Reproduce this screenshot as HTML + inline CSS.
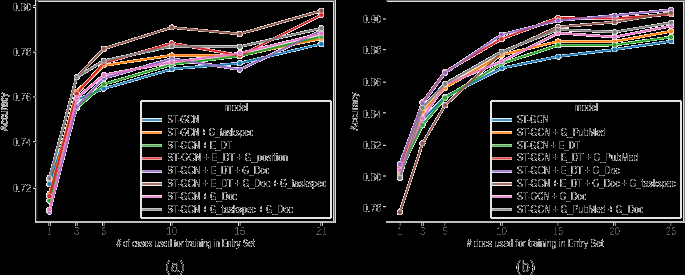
<!DOCTYPE html>
<html><head><meta charset="utf-8"><title>chart</title>
<style>html,body{margin:0;padding:0;background:#000;width:685px;height:275px;overflow:hidden}
svg{display:block} text{font-family:"Liberation Sans",sans-serif;fill:#262626}</style></head>
<body>
<svg width="685" height="275" viewBox="0 0 685 275" xmlns="http://www.w3.org/2000/svg">
<defs>
<filter id="w2b" x="0" y="0" width="685" height="275" filterUnits="userSpaceOnUse" color-interpolation-filters="sRGB">
<feGaussianBlur in="SourceGraphic" stdDeviation="0.4" result="src"/>
<feColorMatrix in="src" type="matrix" values="0 0 0 0 0  0 0 0 0 0  0 0 0 0 0  -0.3333333 -0.3333333 -0.3333334 0 1" result="m"/>
<feComponentTransfer in="m" result="mask"><feFuncA type="linear" slope="1000" intercept="-0.5"/></feComponentTransfer>
<feComposite in="src" in2="mask" operator="in" result="fg"/>
<feFlood flood-color="#000" result="bg"/>
<feMerge><feMergeNode in="bg"/><feMergeNode in="fg"/></feMerge>
</filter>
<filter id="t_main" x="0" y="0" width="685" height="275" filterUnits="userSpaceOnUse" color-interpolation-filters="sRGB">
<feFlood flood-color="#fff" result="w"/>
<feMerge result="flat0"><feMergeNode in="w"/><feMergeNode in="SourceGraphic"/></feMerge>
<feGaussianBlur in="flat0" stdDeviation="0.5" result="flat"/>
<feColorMatrix in="flat" type="matrix" values="0 0 0 0 0  0 0 0 0 0  0 0 0 0 0  -0.3333333 -0.3333333 -0.3333334 0 1" result="inv"/>
<feComponentTransfer in="inv" result="mask"><feFuncA type="linear" slope="1000" intercept="-140.000"/></feComponentTransfer>
<feComposite in="flat" in2="mask" operator="in"/>
</filter>
<filter id="t_ytk" x="0" y="0" width="685" height="275" filterUnits="userSpaceOnUse" color-interpolation-filters="sRGB">
<feFlood flood-color="#fff" result="w"/>
<feMerge result="flat0"><feMergeNode in="w"/><feMergeNode in="SourceGraphic"/></feMerge>
<feGaussianBlur in="flat0" stdDeviation="0.6" result="flat"/>
<feColorMatrix in="flat" type="matrix" values="0 0 0 0 0  0 0 0 0 0  0 0 0 0 0  -0.3333333 -0.3333333 -0.3333334 0 1" result="inv"/>
<feComponentTransfer in="inv" result="mask"><feFuncA type="linear" slope="1000" intercept="-200.000"/></feComponentTransfer>
<feComposite in="flat" in2="mask" operator="in"/>
</filter>
<filter id="t_xtk" x="0" y="0" width="685" height="275" filterUnits="userSpaceOnUse" color-interpolation-filters="sRGB">
<feFlood flood-color="#fff" result="w"/>
<feMerge result="flat0"><feMergeNode in="w"/><feMergeNode in="SourceGraphic"/></feMerge>
<feGaussianBlur in="flat0" stdDeviation="0.6" result="flat"/>
<feColorMatrix in="flat" type="matrix" values="0 0 0 0 0  0 0 0 0 0  0 0 0 0 0  -0.3333333 -0.3333333 -0.3333334 0 1" result="inv"/>
<feComponentTransfer in="inv" result="mask"><feFuncA type="linear" slope="1000" intercept="-500.000"/></feComponentTransfer>
<feComposite in="flat" in2="mask" operator="in"/>
</filter>
</defs>
<g filter="url(#w2b)">
<rect x="-10" y="-10" width="705" height="295" fill="#fff"/>
<polyline points="49.4,184.0 76.6,99.8 103.8,88.6 171.8,69.1 239.8,63.2 321.4,43.9" fill="none" stroke="#1f77b4" stroke-width="2.0" stroke-linejoin="round" stroke-linecap="round"/>
<circle cx="49.4" cy="184.0" r="2.6" fill="#1f77b4" stroke="#fff" stroke-width="0.6"/>
<circle cx="76.6" cy="99.8" r="2.6" fill="#1f77b4" stroke="#fff" stroke-width="0.6"/>
<circle cx="103.8" cy="88.6" r="2.6" fill="#1f77b4" stroke="#fff" stroke-width="0.6"/>
<circle cx="171.8" cy="69.1" r="2.6" fill="#1f77b4" stroke="#fff" stroke-width="0.6"/>
<circle cx="239.8" cy="63.2" r="2.6" fill="#1f77b4" stroke="#fff" stroke-width="0.6"/>
<circle cx="321.4" cy="43.9" r="2.6" fill="#1f77b4" stroke="#fff" stroke-width="0.6"/>
<polyline points="49.4,194.0 76.6,91.5 103.8,65.5 171.8,55.3 239.8,55.5 321.4,38.5" fill="none" stroke="#ff7f0e" stroke-width="2.0" stroke-linejoin="round" stroke-linecap="round"/>
<circle cx="49.4" cy="194.0" r="2.6" fill="#ff7f0e" stroke="#fff" stroke-width="0.6"/>
<circle cx="76.6" cy="91.5" r="2.6" fill="#ff7f0e" stroke="#fff" stroke-width="0.6"/>
<circle cx="103.8" cy="65.5" r="2.6" fill="#ff7f0e" stroke="#fff" stroke-width="0.6"/>
<circle cx="171.8" cy="55.3" r="2.6" fill="#ff7f0e" stroke="#fff" stroke-width="0.6"/>
<circle cx="239.8" cy="55.5" r="2.6" fill="#ff7f0e" stroke="#fff" stroke-width="0.6"/>
<circle cx="321.4" cy="38.5" r="2.6" fill="#ff7f0e" stroke="#fff" stroke-width="0.6"/>
<polyline points="49.4,200.6 76.6,108.0 103.8,84.2 171.8,64.5 239.8,56.0 321.4,36.5" fill="none" stroke="#2ca02c" stroke-width="2.0" stroke-linejoin="round" stroke-linecap="round"/>
<circle cx="49.4" cy="200.6" r="2.6" fill="#2ca02c" stroke="#fff" stroke-width="0.6"/>
<circle cx="76.6" cy="108.0" r="2.6" fill="#2ca02c" stroke="#fff" stroke-width="0.6"/>
<circle cx="103.8" cy="84.2" r="2.6" fill="#2ca02c" stroke="#fff" stroke-width="0.6"/>
<circle cx="171.8" cy="64.5" r="2.6" fill="#2ca02c" stroke="#fff" stroke-width="0.6"/>
<circle cx="239.8" cy="56.0" r="2.6" fill="#2ca02c" stroke="#fff" stroke-width="0.6"/>
<circle cx="321.4" cy="36.5" r="2.6" fill="#2ca02c" stroke="#fff" stroke-width="0.6"/>
<polyline points="49.4,196.2 76.6,93.8 103.8,63.0 171.8,43.3 239.8,55.6 321.4,14.8" fill="none" stroke="#d62728" stroke-width="2.0" stroke-linejoin="round" stroke-linecap="round"/>
<circle cx="49.4" cy="196.2" r="2.6" fill="#d62728" stroke="#fff" stroke-width="0.6"/>
<circle cx="76.6" cy="93.8" r="2.6" fill="#d62728" stroke="#fff" stroke-width="0.6"/>
<circle cx="103.8" cy="63.0" r="2.6" fill="#d62728" stroke="#fff" stroke-width="0.6"/>
<circle cx="171.8" cy="43.3" r="2.6" fill="#d62728" stroke="#fff" stroke-width="0.6"/>
<circle cx="239.8" cy="55.6" r="2.6" fill="#d62728" stroke="#fff" stroke-width="0.6"/>
<circle cx="321.4" cy="14.8" r="2.6" fill="#d62728" stroke="#fff" stroke-width="0.6"/>
<polyline points="49.4,211.8 76.6,106.7 103.8,78.3 171.8,58.8 239.8,69.6 321.4,30.7" fill="none" stroke="#9467bd" stroke-width="2.0" stroke-linejoin="round" stroke-linecap="round"/>
<circle cx="49.4" cy="211.8" r="2.6" fill="#9467bd" stroke="#fff" stroke-width="0.6"/>
<circle cx="76.6" cy="106.7" r="2.6" fill="#9467bd" stroke="#fff" stroke-width="0.6"/>
<circle cx="103.8" cy="78.3" r="2.6" fill="#9467bd" stroke="#fff" stroke-width="0.6"/>
<circle cx="171.8" cy="58.8" r="2.6" fill="#9467bd" stroke="#fff" stroke-width="0.6"/>
<circle cx="239.8" cy="69.6" r="2.6" fill="#9467bd" stroke="#fff" stroke-width="0.6"/>
<circle cx="321.4" cy="30.7" r="2.6" fill="#9467bd" stroke="#fff" stroke-width="0.6"/>
<polyline points="49.4,179.0 76.6,77.5 103.8,48.7 171.8,27.4 239.8,33.9 321.4,10.7" fill="none" stroke="#8c564b" stroke-width="2.0" stroke-linejoin="round" stroke-linecap="round"/>
<circle cx="49.4" cy="179.0" r="2.6" fill="#8c564b" stroke="#fff" stroke-width="0.6"/>
<circle cx="76.6" cy="77.5" r="2.6" fill="#8c564b" stroke="#fff" stroke-width="0.6"/>
<circle cx="103.8" cy="48.7" r="2.6" fill="#8c564b" stroke="#fff" stroke-width="0.6"/>
<circle cx="171.8" cy="27.4" r="2.6" fill="#8c564b" stroke="#fff" stroke-width="0.6"/>
<circle cx="239.8" cy="33.9" r="2.6" fill="#8c564b" stroke="#fff" stroke-width="0.6"/>
<circle cx="321.4" cy="10.7" r="2.6" fill="#8c564b" stroke="#fff" stroke-width="0.6"/>
<polyline points="49.4,209.5 76.6,98.2 103.8,75.1 171.8,62.3 239.8,53.2 321.4,33.6" fill="none" stroke="#e377c2" stroke-width="2.0" stroke-linejoin="round" stroke-linecap="round"/>
<circle cx="49.4" cy="209.5" r="2.6" fill="#e377c2" stroke="#fff" stroke-width="0.6"/>
<circle cx="76.6" cy="98.2" r="2.6" fill="#e377c2" stroke="#fff" stroke-width="0.6"/>
<circle cx="103.8" cy="75.1" r="2.6" fill="#e377c2" stroke="#fff" stroke-width="0.6"/>
<circle cx="171.8" cy="62.3" r="2.6" fill="#e377c2" stroke="#fff" stroke-width="0.6"/>
<circle cx="239.8" cy="53.2" r="2.6" fill="#e377c2" stroke="#fff" stroke-width="0.6"/>
<circle cx="321.4" cy="33.6" r="2.6" fill="#e377c2" stroke="#fff" stroke-width="0.6"/>
<polyline points="49.4,178.1 76.6,77.3 103.8,60.7 171.8,46.2 239.8,46.7 321.4,28.2" fill="none" stroke="#7f7f7f" stroke-width="2.0" stroke-linejoin="round" stroke-linecap="round"/>
<circle cx="49.4" cy="178.1" r="2.6" fill="#7f7f7f" stroke="#fff" stroke-width="0.6"/>
<circle cx="76.6" cy="77.3" r="2.6" fill="#7f7f7f" stroke="#fff" stroke-width="0.6"/>
<circle cx="103.8" cy="60.7" r="2.6" fill="#7f7f7f" stroke="#fff" stroke-width="0.6"/>
<circle cx="171.8" cy="46.2" r="2.6" fill="#7f7f7f" stroke="#fff" stroke-width="0.6"/>
<circle cx="239.8" cy="46.7" r="2.6" fill="#7f7f7f" stroke="#fff" stroke-width="0.6"/>
<circle cx="321.4" cy="28.2" r="2.6" fill="#7f7f7f" stroke="#fff" stroke-width="0.6"/>
<rect x="141" y="101" width="190" height="117" rx="1.5" fill="#fff" stroke="#cccccc" stroke-width="1"/>
<line x1="142.2" y1="120.0" x2="161.8" y2="120.0" stroke="#1f77b4" stroke-width="2.3" stroke-opacity="0.82"/>
<line x1="142.2" y1="132.8" x2="161.8" y2="132.8" stroke="#ff7f0e" stroke-width="2.3" stroke-opacity="0.82"/>
<line x1="142.2" y1="145.6" x2="161.8" y2="145.6" stroke="#2ca02c" stroke-width="2.3" stroke-opacity="0.82"/>
<line x1="142.2" y1="158.4" x2="161.8" y2="158.4" stroke="#d62728" stroke-width="2.3" stroke-opacity="0.82"/>
<line x1="142.2" y1="171.2" x2="161.8" y2="171.2" stroke="#9467bd" stroke-width="2.3" stroke-opacity="0.82"/>
<line x1="142.2" y1="184.0" x2="161.8" y2="184.0" stroke="#8c564b" stroke-width="2.3" stroke-opacity="0.82"/>
<line x1="142.2" y1="196.8" x2="161.8" y2="196.8" stroke="#e377c2" stroke-width="2.3" stroke-opacity="0.82"/>
<line x1="142.2" y1="209.6" x2="161.8" y2="209.6" stroke="#7f7f7f" stroke-width="2.3" stroke-opacity="0.82"/>
<polyline points="399.9,174.5 422.5,120.0 445.1,97.0 501.6,68.2 558.1,56.6 614.6,49.4 671.1,41.2" fill="none" stroke="#1f77b4" stroke-width="2.0" stroke-linejoin="round" stroke-linecap="round"/>
<circle cx="399.9" cy="174.5" r="2.6" fill="#1f77b4" stroke="#fff" stroke-width="0.6"/>
<circle cx="422.5" cy="120.0" r="2.6" fill="#1f77b4" stroke="#fff" stroke-width="0.6"/>
<circle cx="445.1" cy="97.0" r="2.6" fill="#1f77b4" stroke="#fff" stroke-width="0.6"/>
<circle cx="501.6" cy="68.2" r="2.6" fill="#1f77b4" stroke="#fff" stroke-width="0.6"/>
<circle cx="558.1" cy="56.6" r="2.6" fill="#1f77b4" stroke="#fff" stroke-width="0.6"/>
<circle cx="614.6" cy="49.4" r="2.6" fill="#1f77b4" stroke="#fff" stroke-width="0.6"/>
<circle cx="671.1" cy="41.2" r="2.6" fill="#1f77b4" stroke="#fff" stroke-width="0.6"/>
<polyline points="399.9,172.5 422.5,111.6 445.1,87.7 501.6,54.9 558.1,41.4 614.6,41.5 671.1,31.3" fill="none" stroke="#ff7f0e" stroke-width="2.0" stroke-linejoin="round" stroke-linecap="round"/>
<circle cx="399.9" cy="172.5" r="2.6" fill="#ff7f0e" stroke="#fff" stroke-width="0.6"/>
<circle cx="422.5" cy="111.6" r="2.6" fill="#ff7f0e" stroke="#fff" stroke-width="0.6"/>
<circle cx="445.1" cy="87.7" r="2.6" fill="#ff7f0e" stroke="#fff" stroke-width="0.6"/>
<circle cx="501.6" cy="54.9" r="2.6" fill="#ff7f0e" stroke="#fff" stroke-width="0.6"/>
<circle cx="558.1" cy="41.4" r="2.6" fill="#ff7f0e" stroke="#fff" stroke-width="0.6"/>
<circle cx="614.6" cy="41.5" r="2.6" fill="#ff7f0e" stroke="#fff" stroke-width="0.6"/>
<circle cx="671.1" cy="31.3" r="2.6" fill="#ff7f0e" stroke="#fff" stroke-width="0.6"/>
<polyline points="399.9,170.6 422.5,125.1 445.1,97.8 501.6,63.5 558.1,45.2 614.6,45.0 671.1,37.1" fill="none" stroke="#2ca02c" stroke-width="2.0" stroke-linejoin="round" stroke-linecap="round"/>
<circle cx="399.9" cy="170.6" r="2.6" fill="#2ca02c" stroke="#fff" stroke-width="0.6"/>
<circle cx="422.5" cy="125.1" r="2.6" fill="#2ca02c" stroke="#fff" stroke-width="0.6"/>
<circle cx="445.1" cy="97.8" r="2.6" fill="#2ca02c" stroke="#fff" stroke-width="0.6"/>
<circle cx="501.6" cy="63.5" r="2.6" fill="#2ca02c" stroke="#fff" stroke-width="0.6"/>
<circle cx="558.1" cy="45.2" r="2.6" fill="#2ca02c" stroke="#fff" stroke-width="0.6"/>
<circle cx="614.6" cy="45.0" r="2.6" fill="#2ca02c" stroke="#fff" stroke-width="0.6"/>
<circle cx="671.1" cy="37.1" r="2.6" fill="#2ca02c" stroke="#fff" stroke-width="0.6"/>
<polyline points="399.9,167.3 422.5,102.3 445.1,71.9 501.6,38.9 558.1,17.8 614.6,18.5 671.1,14.3" fill="none" stroke="#d62728" stroke-width="2.0" stroke-linejoin="round" stroke-linecap="round"/>
<circle cx="399.9" cy="167.3" r="2.6" fill="#d62728" stroke="#fff" stroke-width="0.6"/>
<circle cx="422.5" cy="102.3" r="2.6" fill="#d62728" stroke="#fff" stroke-width="0.6"/>
<circle cx="445.1" cy="71.9" r="2.6" fill="#d62728" stroke="#fff" stroke-width="0.6"/>
<circle cx="501.6" cy="38.9" r="2.6" fill="#d62728" stroke="#fff" stroke-width="0.6"/>
<circle cx="558.1" cy="17.8" r="2.6" fill="#d62728" stroke="#fff" stroke-width="0.6"/>
<circle cx="614.6" cy="18.5" r="2.6" fill="#d62728" stroke="#fff" stroke-width="0.6"/>
<circle cx="671.1" cy="14.3" r="2.6" fill="#d62728" stroke="#fff" stroke-width="0.6"/>
<polyline points="399.9,164.0 422.5,103.3 445.1,72.8 501.6,34.5 558.1,20.5 614.6,15.6 671.1,9.8" fill="none" stroke="#9467bd" stroke-width="2.0" stroke-linejoin="round" stroke-linecap="round"/>
<circle cx="399.9" cy="164.0" r="2.6" fill="#9467bd" stroke="#fff" stroke-width="0.6"/>
<circle cx="422.5" cy="103.3" r="2.6" fill="#9467bd" stroke="#fff" stroke-width="0.6"/>
<circle cx="445.1" cy="72.8" r="2.6" fill="#9467bd" stroke="#fff" stroke-width="0.6"/>
<circle cx="501.6" cy="34.5" r="2.6" fill="#9467bd" stroke="#fff" stroke-width="0.6"/>
<circle cx="558.1" cy="20.5" r="2.6" fill="#9467bd" stroke="#fff" stroke-width="0.6"/>
<circle cx="614.6" cy="15.6" r="2.6" fill="#9467bd" stroke="#fff" stroke-width="0.6"/>
<circle cx="671.1" cy="9.8" r="2.6" fill="#9467bd" stroke="#fff" stroke-width="0.6"/>
<polyline points="399.9,212.2 422.5,143.4 445.1,105.2 501.6,52.8 558.1,27.0 614.6,22.1 671.1,12.8" fill="none" stroke="#8c564b" stroke-width="2.0" stroke-linejoin="round" stroke-linecap="round"/>
<circle cx="399.9" cy="212.2" r="2.6" fill="#8c564b" stroke="#fff" stroke-width="0.6"/>
<circle cx="422.5" cy="143.4" r="2.6" fill="#8c564b" stroke="#fff" stroke-width="0.6"/>
<circle cx="445.1" cy="105.2" r="2.6" fill="#8c564b" stroke="#fff" stroke-width="0.6"/>
<circle cx="501.6" cy="52.8" r="2.6" fill="#8c564b" stroke="#fff" stroke-width="0.6"/>
<circle cx="558.1" cy="27.0" r="2.6" fill="#8c564b" stroke="#fff" stroke-width="0.6"/>
<circle cx="614.6" cy="22.1" r="2.6" fill="#8c564b" stroke="#fff" stroke-width="0.6"/>
<circle cx="671.1" cy="12.8" r="2.6" fill="#8c564b" stroke="#fff" stroke-width="0.6"/>
<polyline points="399.9,170.2 422.5,118.5 445.1,84.6 501.6,61.4 558.1,33.1 614.6,37.1 671.1,25.9" fill="none" stroke="#e377c2" stroke-width="2.0" stroke-linejoin="round" stroke-linecap="round"/>
<circle cx="399.9" cy="170.2" r="2.6" fill="#e377c2" stroke="#fff" stroke-width="0.6"/>
<circle cx="422.5" cy="118.5" r="2.6" fill="#e377c2" stroke="#fff" stroke-width="0.6"/>
<circle cx="445.1" cy="84.6" r="2.6" fill="#e377c2" stroke="#fff" stroke-width="0.6"/>
<circle cx="501.6" cy="61.4" r="2.6" fill="#e377c2" stroke="#fff" stroke-width="0.6"/>
<circle cx="558.1" cy="33.1" r="2.6" fill="#e377c2" stroke="#fff" stroke-width="0.6"/>
<circle cx="614.6" cy="37.1" r="2.6" fill="#e377c2" stroke="#fff" stroke-width="0.6"/>
<circle cx="671.1" cy="25.9" r="2.6" fill="#e377c2" stroke="#fff" stroke-width="0.6"/>
<polyline points="399.9,177.8 422.5,107.7 445.1,83.9 501.6,51.7 558.1,29.6 614.6,32.1 671.1,22.7" fill="none" stroke="#7f7f7f" stroke-width="2.0" stroke-linejoin="round" stroke-linecap="round"/>
<circle cx="399.9" cy="177.8" r="2.6" fill="#7f7f7f" stroke="#fff" stroke-width="0.6"/>
<circle cx="422.5" cy="107.7" r="2.6" fill="#7f7f7f" stroke="#fff" stroke-width="0.6"/>
<circle cx="445.1" cy="83.9" r="2.6" fill="#7f7f7f" stroke="#fff" stroke-width="0.6"/>
<circle cx="501.6" cy="51.7" r="2.6" fill="#7f7f7f" stroke="#fff" stroke-width="0.6"/>
<circle cx="558.1" cy="29.6" r="2.6" fill="#7f7f7f" stroke="#fff" stroke-width="0.6"/>
<circle cx="614.6" cy="32.1" r="2.6" fill="#7f7f7f" stroke="#fff" stroke-width="0.6"/>
<circle cx="671.1" cy="22.7" r="2.6" fill="#7f7f7f" stroke="#fff" stroke-width="0.6"/>
<rect x="491" y="101" width="190" height="117" rx="1.5" fill="#fff" stroke="#cccccc" stroke-width="1"/>
<line x1="492.2" y1="120.0" x2="511.8" y2="120.0" stroke="#1f77b4" stroke-width="2.3" stroke-opacity="0.82"/>
<line x1="492.2" y1="132.8" x2="511.8" y2="132.8" stroke="#ff7f0e" stroke-width="2.3" stroke-opacity="0.82"/>
<line x1="492.2" y1="145.6" x2="511.8" y2="145.6" stroke="#2ca02c" stroke-width="2.3" stroke-opacity="0.82"/>
<line x1="492.2" y1="158.4" x2="511.8" y2="158.4" stroke="#d62728" stroke-width="2.3" stroke-opacity="0.82"/>
<line x1="492.2" y1="171.2" x2="511.8" y2="171.2" stroke="#9467bd" stroke-width="2.3" stroke-opacity="0.82"/>
<line x1="492.2" y1="184.0" x2="511.8" y2="184.0" stroke="#8c564b" stroke-width="2.3" stroke-opacity="0.82"/>
<line x1="492.2" y1="196.8" x2="511.8" y2="196.8" stroke="#e377c2" stroke-width="2.3" stroke-opacity="0.82"/>
<line x1="492.2" y1="209.6" x2="511.8" y2="209.6" stroke="#7f7f7f" stroke-width="2.3" stroke-opacity="0.82"/>
</g>
<g>
<rect x="35" y="0" width="1" height="223" fill="#d7d7d7"/>
<rect x="36" y="0" width="1" height="222" fill="#323232"/>
<rect x="37" y="0" width="1" height="222" fill="#141414"/>
<rect x="36" y="0" width="298" height="1" fill="#6e6e6e"/>
<rect x="38" y="1" width="295" height="1" fill="#dcdcdc"/>
<rect x="333" y="1" width="1" height="220" fill="#dcdcdc"/>
<rect x="334" y="0" width="1" height="223" fill="#6e6e6e"/>
<rect x="335" y="0" width="1" height="223" fill="#dcdcdc"/>
<rect x="36" y="221" width="299" height="2" fill="#bdbdbd"/>
<rect x="48" y="223" width="1" height="3" fill="#929292"/>
<rect x="49" y="223" width="1" height="3" fill="#262626"/>
<rect x="50" y="223" width="1" height="3" fill="#bebebe"/>
<rect x="75" y="223" width="1" height="3" fill="#bebebe"/>
<rect x="76" y="223" width="1" height="3" fill="#262626"/>
<rect x="77" y="223" width="1" height="3" fill="#929292"/>
<rect x="102" y="223" width="1" height="3" fill="#e9e9e9"/>
<rect x="103" y="223" width="1" height="3" fill="#262626"/>
<rect x="104" y="223" width="1" height="3" fill="#676767"/>
<rect x="170" y="223" width="1" height="3" fill="#e9e9e9"/>
<rect x="171" y="223" width="1" height="3" fill="#262626"/>
<rect x="172" y="223" width="1" height="3" fill="#676767"/>
<rect x="238" y="223" width="1" height="3" fill="#e9e9e9"/>
<rect x="239" y="223" width="1" height="3" fill="#262626"/>
<rect x="240" y="223" width="1" height="3" fill="#676767"/>
<rect x="320" y="223" width="1" height="3" fill="#929292"/>
<rect x="321" y="223" width="1" height="3" fill="#262626"/>
<rect x="322" y="223" width="1" height="3" fill="#bebebe"/>
<rect x="33" y="5" width="2" height="1" fill="#dedede"/>
<rect x="33" y="6" width="2" height="1" fill="#262626"/>
<rect x="35" y="6" width="1" height="1" fill="#262626"/>
<rect x="33" y="7" width="2" height="1" fill="#f4f4f4"/>
<rect x="33" y="51" width="2" height="1" fill="#474747"/>
<rect x="35" y="51" width="1" height="1" fill="#474747"/>
<rect x="33" y="52" width="2" height="1" fill="#b3b3b3"/>
<rect x="33" y="96" width="2" height="1" fill="#888888"/>
<rect x="35" y="96" width="1" height="1" fill="#888888"/>
<rect x="33" y="97" width="2" height="1" fill="#727272"/>
<rect x="35" y="97" width="1" height="1" fill="#727272"/>
<rect x="33" y="141" width="2" height="1" fill="#c9c9c9"/>
<rect x="33" y="142" width="2" height="1" fill="#313131"/>
<rect x="35" y="142" width="1" height="1" fill="#313131"/>
<rect x="33" y="187" width="2" height="1" fill="#313131"/>
<rect x="35" y="187" width="1" height="1" fill="#313131"/>
<rect x="33" y="188" width="2" height="1" fill="#c9c9c9"/>
<rect x="386" y="0" width="299" height="1" fill="#6e6e6e"/>
<rect x="387" y="1" width="296" height="1" fill="#dcdcdc"/>
<rect x="683" y="1" width="1" height="220" fill="#dcdcdc"/>
<rect x="684" y="0" width="1" height="223" fill="#828282"/>
<rect x="386" y="221" width="299" height="2" fill="#bdbdbd"/>
<rect x="399" y="223" width="1" height="3" fill="#262626"/>
<rect x="400" y="223" width="1" height="3" fill="#515151"/>
<rect x="421" y="223" width="1" height="3" fill="#a8a8a8"/>
<rect x="422" y="223" width="1" height="3" fill="#262626"/>
<rect x="423" y="223" width="1" height="3" fill="#a8a8a8"/>
<rect x="444" y="223" width="1" height="3" fill="#515151"/>
<rect x="445" y="223" width="1" height="3" fill="#262626"/>
<rect x="500" y="223" width="1" height="3" fill="#bebebe"/>
<rect x="501" y="223" width="1" height="3" fill="#262626"/>
<rect x="502" y="223" width="1" height="3" fill="#939393"/>
<rect x="557" y="223" width="1" height="3" fill="#515151"/>
<rect x="558" y="223" width="1" height="3" fill="#262626"/>
<rect x="613" y="223" width="1" height="3" fill="#bebebe"/>
<rect x="614" y="223" width="1" height="3" fill="#262626"/>
<rect x="615" y="223" width="1" height="3" fill="#929292"/>
<rect x="670" y="223" width="1" height="3" fill="#515151"/>
<rect x="671" y="223" width="1" height="3" fill="#262626"/>
<rect x="383" y="18" width="3" height="1" fill="#7d7d7d"/>
<rect x="383" y="19" width="3" height="1" fill="#7d7d7d"/>
<rect x="383" y="49" width="3" height="1" fill="#d4d4d4"/>
<rect x="383" y="50" width="3" height="1" fill="#262626"/>
<rect x="383" y="81" width="3" height="1" fill="#515151"/>
<rect x="383" y="82" width="3" height="1" fill="#a8a8a8"/>
<rect x="383" y="112" width="3" height="1" fill="#a8a8a8"/>
<rect x="383" y="113" width="3" height="1" fill="#515151"/>
<rect x="383" y="144" width="3" height="1" fill="#262626"/>
<rect x="383" y="145" width="3" height="1" fill="#d4d4d4"/>
<rect x="383" y="175" width="3" height="1" fill="#7d7d7d"/>
<rect x="383" y="176" width="3" height="1" fill="#7d7d7d"/>
<rect x="383" y="206" width="3" height="1" fill="#d4d4d4"/>
<rect x="383" y="207" width="3" height="1" fill="#262626"/>
</g>
<g filter="url(#t_main)">
<text x="236.2" y="111.0" text-anchor="middle" font-size="10" textLength="23.2" lengthAdjust="spacingAndGlyphs">model</text>
<text x="167.2" y="123.0" font-size="10" textLength="31.8" lengthAdjust="spacingAndGlyphs">ST-GCN</text>
<text x="167.2" y="135.8" font-size="10" textLength="86.1" lengthAdjust="spacingAndGlyphs">ST-GCN + G_taskspec</text>
<text x="167.2" y="148.6" font-size="10" textLength="65.0" lengthAdjust="spacingAndGlyphs">ST-GCN + E_DT</text>
<text x="167.2" y="161.4" font-size="10" textLength="120.8" lengthAdjust="spacingAndGlyphs">ST-GCN + E_DT + G_position</text>
<text x="167.2" y="174.2" font-size="10" textLength="102.3" lengthAdjust="spacingAndGlyphs">ST-GCN + E_DT + G_Doc</text>
<text x="167.2" y="187.0" font-size="10" textLength="159.3" lengthAdjust="spacingAndGlyphs">ST-GCN + E_DT + G_Doc + G_taskspec</text>
<text x="167.2" y="199.8" font-size="10" textLength="70.0" lengthAdjust="spacingAndGlyphs">ST-GCN + G_Doc</text>
<text x="167.2" y="212.6" font-size="10" textLength="125.8" lengthAdjust="spacingAndGlyphs">ST-GCN + G_taskspec + G_Doc</text>
<text transform="translate(7.6,111.8) rotate(-90)" text-anchor="middle" font-size="10.8" textLength="38.4" lengthAdjust="spacingAndGlyphs">Accuracy</text>
<text x="185.5" y="246.8" text-anchor="middle" font-size="10.5" textLength="138" lengthAdjust="spacingAndGlyphs"># of cases used for training in Entry Set</text>
<text x="175.0" y="271.7" text-anchor="middle" font-size="16">(a)</text>
<text x="586.2" y="111.0" text-anchor="middle" font-size="10" textLength="23.2" lengthAdjust="spacingAndGlyphs">model</text>
<text x="517.0" y="123.0" font-size="10" textLength="31.7" lengthAdjust="spacingAndGlyphs">ST-GCN</text>
<text x="517.0" y="135.8" font-size="10" textLength="88.8" lengthAdjust="spacingAndGlyphs">ST-GCN + G_PubMed</text>
<text x="517.0" y="148.6" font-size="10" textLength="63.0" lengthAdjust="spacingAndGlyphs">ST-GCN + E_DT</text>
<text x="517.0" y="161.4" font-size="10" textLength="121.5" lengthAdjust="spacingAndGlyphs">ST-GCN + E_DT + G_PubMed</text>
<text x="517.0" y="174.2" font-size="10" textLength="103.0" lengthAdjust="spacingAndGlyphs">ST-GCN + E_DT + G_Doc</text>
<text x="517.0" y="187.0" font-size="10" textLength="158.8" lengthAdjust="spacingAndGlyphs">ST-GCN + E_DT + G_Doc + G_taskspec</text>
<text x="517.0" y="199.8" font-size="10" textLength="69.4" lengthAdjust="spacingAndGlyphs">ST-GCN + G_Doc</text>
<text x="517.0" y="212.6" font-size="10" textLength="126.5" lengthAdjust="spacingAndGlyphs">ST-GCN + G_PubMed + G_Doc</text>
<text transform="translate(357.6,111.8) rotate(-90)" text-anchor="middle" font-size="10.8" textLength="38.4" lengthAdjust="spacingAndGlyphs">Accuracy</text>
<text x="535.0" y="246.8" text-anchor="middle" font-size="10.5" textLength="136.7" lengthAdjust="spacingAndGlyphs"># docs used for training in Entry Set</text>
<text x="525.5" y="271.7" text-anchor="middle" font-size="16">(b)</text>
</g>
<g filter="url(#t_ytk)">
<text x="31.4" y="11.0" text-anchor="end" font-size="10.8" textLength="19" lengthAdjust="spacingAndGlyphs">0.80</text>
<text x="31.4" y="56.1" text-anchor="end" font-size="10.8" textLength="19" lengthAdjust="spacingAndGlyphs">0.78</text>
<text x="31.4" y="101.3" text-anchor="end" font-size="10.8" textLength="19" lengthAdjust="spacingAndGlyphs">0.76</text>
<text x="31.4" y="146.4" text-anchor="end" font-size="10.8" textLength="19" lengthAdjust="spacingAndGlyphs">0.74</text>
<text x="31.4" y="191.6" text-anchor="end" font-size="10.8" textLength="19" lengthAdjust="spacingAndGlyphs">0.72</text>
<text x="381.4" y="22.7" text-anchor="end" font-size="10.8" textLength="19" lengthAdjust="spacingAndGlyphs">0.90</text>
<text x="381.4" y="54.3" text-anchor="end" font-size="10.8" textLength="19" lengthAdjust="spacingAndGlyphs">0.88</text>
<text x="381.4" y="85.9" text-anchor="end" font-size="10.8" textLength="19" lengthAdjust="spacingAndGlyphs">0.86</text>
<text x="381.4" y="117.5" text-anchor="end" font-size="10.8" textLength="19" lengthAdjust="spacingAndGlyphs">0.84</text>
<text x="381.4" y="149.1" text-anchor="end" font-size="10.8" textLength="19" lengthAdjust="spacingAndGlyphs">0.82</text>
<text x="381.4" y="180.7" text-anchor="end" font-size="10.8" textLength="19" lengthAdjust="spacingAndGlyphs">0.80</text>
<text x="381.4" y="212.3" text-anchor="end" font-size="10.8" textLength="19" lengthAdjust="spacingAndGlyphs">0.78</text>
</g>
<g filter="url(#t_xtk)">
<text x="49.4" y="234.6" text-anchor="middle" font-size="10">1</text>
<text x="76.6" y="234.6" text-anchor="middle" font-size="10">3</text>
<text x="103.8" y="234.6" text-anchor="middle" font-size="10">5</text>
<text x="171.8" y="234.6" text-anchor="middle" font-size="10">10</text>
<text x="239.8" y="234.6" text-anchor="middle" font-size="10">15</text>
<text x="321.4" y="234.6" text-anchor="middle" font-size="10">21</text>
<text x="399.9" y="234.6" text-anchor="middle" font-size="10">1</text>
<text x="422.5" y="234.6" text-anchor="middle" font-size="10">3</text>
<text x="445.1" y="234.6" text-anchor="middle" font-size="10">5</text>
<text x="501.6" y="234.6" text-anchor="middle" font-size="10">10</text>
<text x="558.1" y="234.6" text-anchor="middle" font-size="10">15</text>
<text x="614.6" y="234.6" text-anchor="middle" font-size="10">20</text>
<text x="671.1" y="234.6" text-anchor="middle" font-size="10">25</text>
</g>
</svg>
</body></html>
